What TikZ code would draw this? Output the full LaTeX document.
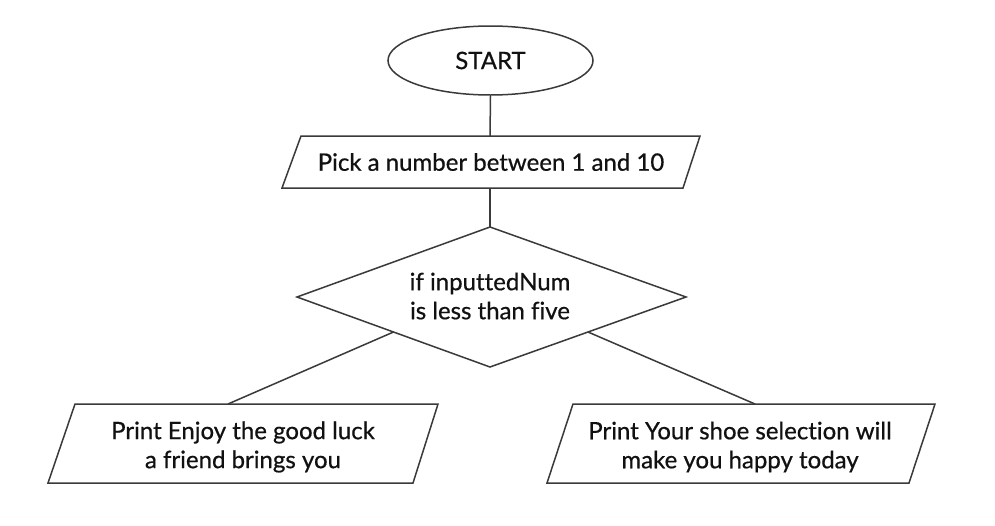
\documentclass[tikz,border=0pt]{standalone}
\usepackage{fontspec}
\setmainfont[Ligatures={NoCommon}, FakeBold=0.6]{Lato}
\usetikzlibrary{shapes.geometric}
\definecolor{linec}{HTML}{3A3A3A}
\definecolor{textc}{HTML}{111111}
\tikzset{
  outline/.style={draw=linec, line width=1.5pt, line join=miter},
  conn/.style={draw=linec, line width=1.5pt},
  txt/.style={text=textc, font=\fontsize{24}{29}\selectfont, align=center, inner sep=0pt},
}
\begin{document}
\begin{tikzpicture}[x=1pt,y=-1pt]
\useasboundingbox[fill=white] (0,0) rectangle (995,525);
% START
\node[ellipse, outline, minimum width=205pt, minimum height=69pt, inner sep=0pt, text=textc, font=\fontsize{24}{29}\selectfont] (start) at (490.5,60.5) {START};
% input 1
\coordinate (p1-tl) at (301,136);
\coordinate (p1-tr) at (700,136);
\coordinate (p1-br) at (683,188);
\coordinate (p1-bl) at (282,188);
\coordinate (p1-n) at (490,136);
\coordinate (p1-s) at (490,188);
\draw[outline] (p1-tl) -- (p1-tr) -- (p1-br) -- (p1-bl) -- cycle;
\node[txt] (pick) at (491,162) {Pick a number between 1 and 10};
% decision
\coordinate (d-n) at (490,227);
\coordinate (d-e) at (686,297);
\coordinate (d-s) at (490,367);
\coordinate (d-w) at (297,297);
\draw[outline] (d-n) -- (d-e) -- (d-s) -- (d-w) -- cycle;
\node[txt] (dec) at (490,296) {if inputtedNum\\is less than five};
\coordinate (d-sw) at (393.5,332);
\coordinate (d-se) at (588,332);
% left output
\coordinate (l-tl) at (75,404);
\coordinate (l-tr) at (438,404);
\coordinate (l-br) at (413,483);
\coordinate (l-bl) at (48,483);
\coordinate (l-n) at (228,404);
\draw[outline] (l-tl) -- (l-tr) -- (l-br) -- (l-bl) -- cycle;
\node[txt] (left) at (243,447) {Print Enjoy the good luck\\a friend brings you};
% right output
\coordinate (r-tl) at (573,404);
\coordinate (r-tr) at (935,404);
\coordinate (r-br) at (909,483);
\coordinate (r-bl) at (547,483);
\coordinate (r-n) at (755,404);
\draw[outline] (r-tl) -- (r-tr) -- (r-br) -- (r-bl) -- cycle;
\node[txt] (right) at (740,447) {Print Your shoe selection will\\make you happy today};
% connectors
\draw[conn] (start.south) -- (p1-n);
\draw[conn] (p1-s) -- (d-n);
\draw[conn] (d-sw) -- (l-n);
\draw[conn] (d-se) -- (r-n);
\end{tikzpicture}
\end{document}
